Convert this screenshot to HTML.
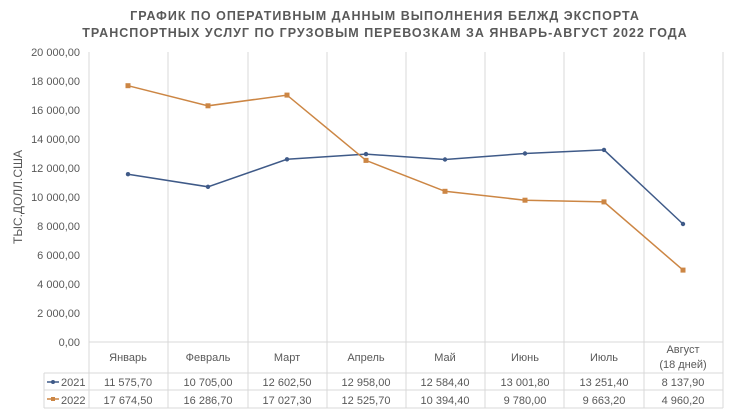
<!DOCTYPE html>
<html><head><meta charset="utf-8"><style>
body{margin:0;background:#fff;}
svg text{font-family:"Liberation Sans",sans-serif;fill:#595959;}
</style></head><body>
<svg width="732" height="412" viewBox="0 0 732 412">
<text x="385" y="20" text-anchor="middle" font-size="12.5" font-weight="bold" letter-spacing="1" fill="#595959">ГРАФИК ПО ОПЕРАТИВНЫМ ДАННЫМ ВЫПОЛНЕНИЯ БЕЛЖД ЭКСПОРТА</text>
<text x="385" y="37" text-anchor="middle" font-size="12.5" font-weight="bold" letter-spacing="1" fill="#595959">ТРАНСПОРТНЫХ УСЛУГ ПО ГРУЗОВЫМ ПЕРЕВОЗКАМ ЗА ЯНВАРЬ-АВГУСТ 2022 ГОДА</text>
<g stroke="#d9d9d9" stroke-width="1">
<line x1="89" y1="52" x2="89" y2="408"/><line x1="168" y1="52" x2="168" y2="408"/><line x1="248" y1="52" x2="248" y2="408"/><line x1="327" y1="52" x2="327" y2="408"/><line x1="406" y1="52" x2="406" y2="408"/><line x1="485" y1="52" x2="485" y2="408"/><line x1="564" y1="52" x2="564" y2="408"/><line x1="644" y1="52" x2="644" y2="408"/><line x1="723" y1="52" x2="723" y2="408"/>
<line x1="89" y1="342" x2="723" y2="342"/>
<line x1="44" y1="373" x2="723" y2="373"/><line x1="44" y1="390" x2="723" y2="390"/><line x1="44" y1="408" x2="723" y2="408"/><line x1="44" y1="373" x2="44" y2="408"/>
</g>
<g font-size="11" text-anchor="end">
<text x="80" y="56">20 000,00</text><text x="80" y="85">18 000,00</text><text x="80" y="114">16 000,00</text><text x="80" y="143">14 000,00</text><text x="80" y="172">12 000,00</text><text x="80" y="201">10 000,00</text><text x="80" y="230">8 000,00</text><text x="80" y="259">6 000,00</text><text x="80" y="288">4 000,00</text><text x="80" y="317">2 000,00</text><text x="80" y="346">0,00</text>
</g>
<text transform="translate(22,197) rotate(-90)" text-anchor="middle" font-size="12">ТЫС.ДОЛЛ.США</text>
<g font-size="11" text-anchor="middle">
<text x="128" y="361">Январь</text><text x="208" y="361">Февраль</text><text x="287" y="361">Март</text><text x="366" y="361">Апрель</text><text x="445" y="361">Май</text><text x="525" y="361">Июнь</text><text x="604" y="361">Июль</text><text x="683" y="353">Август</text><text x="683" y="368">(18 дней)</text>
<text x="128" y="386">11 575,70</text><text x="208" y="386">10 705,00</text><text x="287" y="386">12 602,50</text><text x="366" y="386">12 958,00</text><text x="445" y="386">12 584,40</text><text x="525" y="386">13 001,80</text><text x="604" y="386">13 251,40</text><text x="683" y="386">8 137,90</text>
<text x="128" y="404">17 674,50</text><text x="208" y="404">16 286,70</text><text x="287" y="404">17 027,30</text><text x="366" y="404">12 525,70</text><text x="445" y="404">10 394,40</text><text x="525" y="404">9 780,00</text><text x="604" y="404">9 663,20</text><text x="683" y="404">4 960,20</text>
</g>
<g font-size="11"><text x="61" y="386">2021</text><text x="61" y="404">2022</text></g>
<line x1="47" y1="382" x2="59" y2="382" stroke="#3f5a88" stroke-width="1.5"/><circle cx="53" cy="382" r="2" fill="#3f5a88"/>
<line x1="47" y1="399" x2="59" y2="399" stroke="#cc8644" stroke-width="1.5"/><rect x="51" y="397" width="4" height="4" fill="#cc8644"/>
<polyline fill="none" stroke="#3f5a88" stroke-width="1.5" points="128,174.2 208,186.8 287,159.3 366,154.1 445,159.5 525,153.5 604,149.9 683,224.0"/>
<g fill="#3f5a88"><circle cx="128" cy="174.2" r="2.2"/><circle cx="208" cy="186.8" r="2.2"/><circle cx="287" cy="159.3" r="2.2"/><circle cx="366" cy="154.1" r="2.2"/><circle cx="445" cy="159.5" r="2.2"/><circle cx="525" cy="153.5" r="2.2"/><circle cx="604" cy="149.9" r="2.2"/><circle cx="683" cy="224.0" r="2.2"/></g>
<polyline fill="none" stroke="#cc8644" stroke-width="1.5" points="128,85.7 208,105.8 287,95.1 366,160.4 445,191.3 525,200.2 604,201.9 683,270.1"/>
<g fill="#cc8644"><rect x="125.5" y="83.2" width="5" height="5"/><rect x="205.5" y="103.3" width="5" height="5"/><rect x="284.5" y="92.6" width="5" height="5"/><rect x="363.5" y="157.9" width="5" height="5"/><rect x="442.5" y="188.8" width="5" height="5"/><rect x="522.5" y="197.7" width="5" height="5"/><rect x="601.5" y="199.4" width="5" height="5"/><rect x="680.5" y="267.6" width="5" height="5"/></g>
</svg>
</body></html>
